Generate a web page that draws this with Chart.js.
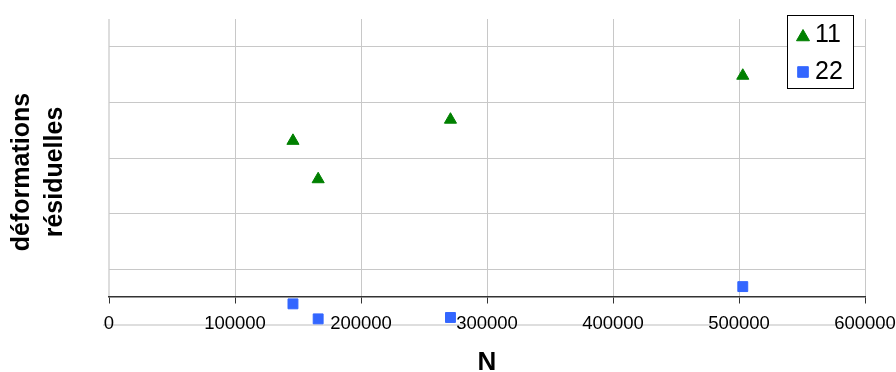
<!DOCTYPE html>
<html>
<head>
<meta charset="utf-8">
<script src="https://cdn.jsdelivr.net/npm/chart.js@4.4.0/dist/chart.umd.min.js"></script>
<style>
html, body { margin: 0; padding: 0; background: #fff; }
</style>
</head>
<body>
<canvas id="myChart" width="896" height="372"></canvas>
<script>
// values (y axis carries no labels, units are grid steps)
var seriesNames = ['11', '22'];
var n_11 = [146000, 166000, 271000, 503000];
var def_11 = [2.81, 2.12, 3.19, 3.98];
var n_22 = [146000, 166000, 271000, 503000];
var def_22 = [-0.12, -0.39, -0.365, 0.19];
var xTicks = [0, 100000, 200000, 300000, 400000, 500000, 600000];
var yGrid = [0.5, 1.5, 2.5, 3.5, 4.5];
var yMin = -0.5;
var yMax = 5;

var FONT = '"Liberation Sans", Arial, Helvetica, sans-serif';
Chart.defaults.font.family = FONT;

function points(xs, ys) {
    return xs.map(function(x, i) { return {x: x, y: ys[i]}; });
}

// vertical grid stops at the zero line, bottom line runs through the labels
var backGrid = {
    id: 'backGrid',
    beforeDraw: function(chart) {
        var ctx = chart.ctx;
        var a = chart.chartArea;
        var xs = chart.scales.x, ys = chart.scales.y;
        var y0 = ys.getPixelForValue(0);
        ctx.save();
        xTicks.forEach(function(v) {
            var px = Math.round(xs.getPixelForValue(v));
            ctx.beginPath();
            if (v === 0) {
                ctx.strokeStyle = '#dddddd';
                ctx.lineWidth = 2;
                ctx.moveTo(px, a.top);
            } else {
                ctx.strokeStyle = '#c8c8c8';
                ctx.lineWidth = 1;
                ctx.moveTo(px + 0.5, a.top);
                px += 0.5;
            }
            ctx.lineTo(px, y0);
            ctx.stroke();
        });
        var yb = Math.round(ys.getPixelForValue(yMin));
        ctx.strokeStyle = '#dedede';
        ctx.lineWidth = 2;
        ctx.beginPath();
        ctx.moveTo(a.left - 6, yb);
        ctx.lineTo(a.right + 28, yb);
        ctx.stroke();
        ctx.restore();
    }
};

// boxed legend floating in the top right corner
var boxLegend = {
    id: 'boxLegend',
    afterDraw: function(chart) {
        var ctx = chart.ctx;
        var a = chart.chartArea;
        var w = 66, h = 73;
        var x0 = a.right - 12 - w;
        var y0 = a.top - 4;
        ctx.save();
        ctx.fillStyle = '#fff';
        ctx.fillRect(x0, y0, w, h);
        ctx.strokeStyle = '#000';
        ctx.lineWidth = 1;
        ctx.strokeRect(x0 + 0.5, y0 + 0.5, w, h);
        chart.data.datasets.forEach(function(ds, i) {
            var cy = y0 + 20 + i * 37;
            ctx.fillStyle = ds.backgroundColor;
            ctx.strokeStyle = ds.borderColor;
            var py = ds.pointStyle === 'triangle' ? cy + 2 : cy;
            Chart.helpers.drawPoint(ctx, {pointStyle: ds.pointStyle, radius: 7.5, borderWidth: 1, rotation: 0}, x0 + 16, py);
            ctx.fillStyle = '#000';
            ctx.font = '25px ' + FONT;
            ctx.textBaseline = 'middle';
            ctx.textAlign = 'left';
            ctx.fillText(ds.label, x0 + 28, cy);
        });
        ctx.restore();
    }
};

var ctx = document.getElementById('myChart').getContext('2d');
var chart = new Chart(ctx, {
    type: 'scatter',
    data: {
        datasets: [{
            label: seriesNames[0],
            data: points(n_11, def_11),
            pointStyle: 'triangle',
            backgroundColor: '#008000',
            borderColor: '#008000',
            borderWidth: 1,
            pointRadius: 7
        }, {
            label: seriesNames[1],
            data: points(n_22, def_22),
            pointStyle: 'rect',
            backgroundColor: '#3366ff',
            borderColor: '#3366ff',
            borderWidth: 1,
            pointRadius: 7
        }]
    },
    options: {
        responsive: false,
        animation: false,
        devicePixelRatio: 1,
        layout: { padding: { top: 19, left: 0, right: 31, bottom: 47 } },
        plugins: {
            legend: { display: false },
            tooltip: { enabled: false }
        },
        scales: {
            x: {
                type: 'linear',
                position: { y: 0 },
                min: 0,
                max: 600000,
                afterBuildTicks: function(s) { s.ticks = xTicks.map(function(v) { return {value: v}; }); },
                afterFit: function(s) {
                    s.height = 76;
                    s.paddingLeft = 0;
                    s.paddingRight = 0;
                },
                grid: {
                    drawOnChartArea: false,
                    color: '#c8c8c8',
                    tickColor: '#333',
                    tickLength: 6,
                    lineWidth: 1
                },
                border: { color: '#333', width: 1.5 },
                ticks: {
                    color: '#000',
                    font: { size: 18.5 },
                    padding: 10,
                    maxRotation: 0,
                    autoSkip: false,
                    callback: function(v) { return String(v); }
                },
                title: {
                    display: true,
                    text: 'N',
                    color: '#000',
                    font: { size: 26, weight: 'bold', lineHeight: 0.77 },
                    padding: { top: 0, bottom: 0 }
                }
            },
            y: {
                min: yMin,
                max: yMax,
                afterBuildTicks: function(s) { s.ticks = yGrid.map(function(v) { return {value: v}; }); },
                afterFit: function(s) { s.width = 109; },
                ticks: { display: false },
                grid: { color: '#c8c8c8', drawTicks: false, lineWidth: 1 },
                border: { display: false },
                title: {
                    display: true,
                    text: ['déformations', 'résiduelles'],
                    color: '#000',
                    font: { size: 25, weight: 'bold', lineHeight: 1.3 },
                    padding: { top: 6, bottom: 0 }
                }
            }
        }
    },
    plugins: [backGrid, boxLegend]
});
</script>
</body>
</html>
